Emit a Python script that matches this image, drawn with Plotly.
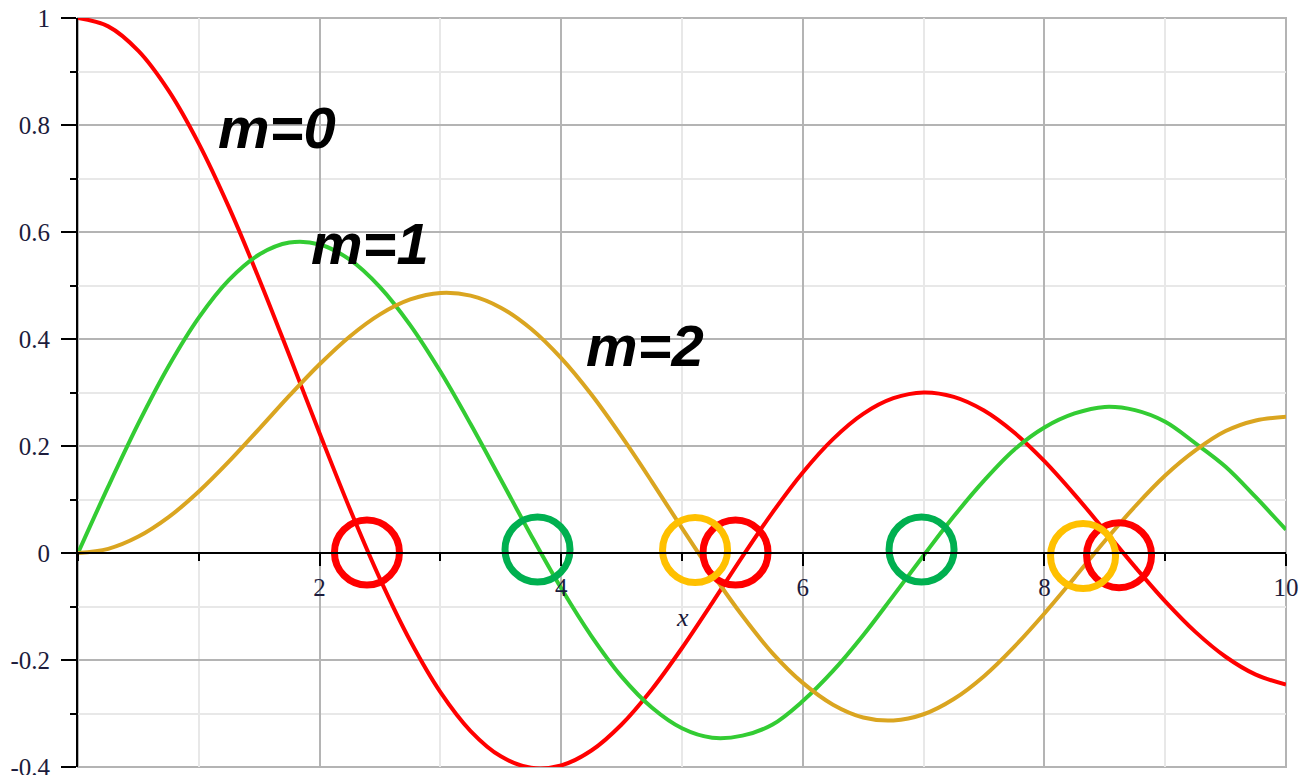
import plotly.graph_objects as go

# Sample points of the three Bessel curves J_m(x), m = 0, 1, 2
x_vals = [0.0, 0.25, 0.5, 0.75, 1.0, 1.25, 1.5, 1.75, 2.0, 2.25, 2.5, 2.75, 3.0, 3.25,
          3.5, 3.75, 4.0, 4.25, 4.5, 4.75, 5.0, 5.25, 5.5, 5.75, 6.0, 6.25, 6.5, 6.75,
          7.0, 7.25, 7.5, 7.75, 8.0, 8.25, 8.5, 8.75, 9.0, 9.25, 9.5, 9.75, 10.0]

j0_vals = [1.0, 0.9844, 0.9385, 0.8642, 0.7652, 0.6459, 0.5118, 0.3690, 0.2239, 0.0827,
           -0.0484, -0.1641, -0.2601, -0.3328, -0.3801, -0.4014, -0.3971, -0.3692, -0.3205,
           -0.2551, -0.1776, -0.0932, -0.0068, 0.0760, 0.1506, 0.2129, 0.2601, 0.2893,
           0.3001, 0.2918, 0.2663, 0.2252, 0.1717, 0.1092, 0.0419, -0.0259, -0.0903,
           -0.1474, -0.1939, -0.2274, -0.2459]

j1_vals = [0.0, 0.1240, 0.2423, 0.3492, 0.4401, 0.5106, 0.5579, 0.5802, 0.5767, 0.5484,
           0.4971, 0.4260, 0.3391, 0.2410, 0.1374, 0.0333, -0.0660, -0.1553, -0.2311,
           -0.2888, -0.3276, -0.3453, -0.3414, -0.3205, -0.2767, -0.2205, -0.1538, -0.0797,
           -0.0047, 0.0685, 0.1352, 0.1930, 0.2346, 0.2608, 0.2731, 0.2670, 0.2453, 0.2051,
           0.1613, 0.1043, 0.0435]

j2_vals = [0.0, 0.0078, 0.0307, 0.0670, 0.1149, 0.1711, 0.2321, 0.2941, 0.3528, 0.4048,
           0.4461, 0.4739, 0.4862, 0.4811, 0.4586, 0.4191, 0.3641, 0.2961, 0.2178, 0.1335,
           0.0466, -0.0383, -0.1173, -0.1875, -0.2428, -0.2835, -0.3074, -0.3129, -0.3014,
           -0.2729, -0.2302, -0.1754, -0.1130, -0.0460, 0.0224, 0.0869, 0.1448, 0.1917,
           0.2279, 0.2478, 0.2546]

# Highlighted zero crossings (circle centres)
zeros_m0_x = [2.392, 5.443, 8.618]
zeros_m0_y = [0.001, 0.001, -0.004]
zeros_m1_x = [3.804, 6.983]
zeros_m1_y = [0.0065, 0.0065]
zeros_m2_x = [5.108, 8.320]
zeros_m2_y = [0.0056, -0.0056]

# Curve labels
label_texts = ["m=0", "m=1", "m=2"]
label_x = [1.65, 2.42, 4.69]
label_y = [0.796, 0.579, 0.387]

y_tickvals = [1, 0.8, 0.6, 0.4, 0.2, 0, -0.2, -0.4]
y_ticktext = ["1", "0.8", "0.6", "0.4", "0.2", "0", "-0.2", "-0.4"]
x_tickvals = [2, 4, 6, 8, 10]
x_ticktext = ["2", "4", "6", "8", "10"]

RED = "#ff0000"
GREEN = "#33cc33"
GOLD = "#daa520"

fig = go.Figure()

for ys, col in [(j0_vals, RED), (j1_vals, GREEN), (j2_vals, GOLD)]:
    fig.add_trace(go.Scatter(
        x=x_vals, y=ys, mode="lines",
        line=dict(color=col, width=4, shape="spline", smoothing=1.0),
        hoverinfo="skip", showlegend=False,
    ))

for zx, zy, col in [(zeros_m0_x, zeros_m0_y, "#ff0000"),
                    (zeros_m1_x, zeros_m1_y, "#00b050"),
                    (zeros_m2_x, zeros_m2_y, "#ffc000")]:
    fig.add_trace(go.Scatter(
        x=zx, y=zy, mode="markers",
        marker=dict(symbol="circle-open", size=65, color=col,
                    line=dict(width=7, color=col)),
        hoverinfo="skip", showlegend=False, cliponaxis=False,
    ))

for t, lx, ly in zip(label_texts, label_x, label_y):
    fig.add_annotation(
        x=lx, y=ly, xref="x", yref="y", text=f"<b><i>{t}</i></b>",
        showarrow=False, font=dict(family="Liberation Sans", size=58, color="black"),
        xanchor="center", yanchor="middle",
    )

fig.add_annotation(
    x=5, y=-0.12, xref="x", yref="y", text="<i>x</i>", showarrow=False,
    font=dict(family="Liberation Serif", size=26, color="#1a1a3a"),
    xanchor="center", yanchor="middle",
)

# plot frame (top and right edges)
fig.add_shape(type="rect", xref="paper", yref="paper", x0=0, y0=0, x1=1, y1=1,
              line=dict(color="#b4b4b4", width=2), layer="below")

tick_font = dict(family="Liberation Serif", size=25, color="#1c1c3c")

fig.update_layout(
    width=1299, height=775,
    margin=dict(l=78, r=13, t=18, b=8),
    paper_bgcolor="white", plot_bgcolor="white",
    xaxis=dict(
        range=[0, 10], anchor="free", position=0.4 / 1.4,
        tickmode="array", tickvals=x_tickvals, ticktext=x_ticktext,
        ticks="outside", ticklen=12, tickwidth=2, tickcolor="black",
        showline=True, linecolor="black", linewidth=2,
        showgrid=True, gridcolor="#b4b4b4", gridwidth=2,
        zeroline=False, tickfont=tick_font, ticklabelstandoff=0,
        ticklabeloverflow="allow", automargin=False,
        minor=dict(tickmode="linear", tick0=0, dtick=1, ticks="outside", ticklen=7,
                   tickwidth=2, tickcolor="black",
                   showgrid=True, gridcolor="#e8e8e8", gridwidth=2),
    ),
    yaxis=dict(
        range=[-0.4, 1],
        tickmode="array", tickvals=y_tickvals, ticktext=y_ticktext,
        ticks="outside", ticklen=15, tickwidth=2, tickcolor="black",
        showline=True, linecolor="black", linewidth=2,
        showgrid=True, gridcolor="#b4b4b4", gridwidth=2,
        zeroline=False, tickfont=tick_font, ticklabelstandoff=6,
        ticklabeloverflow="allow", automargin=False,
        minor=dict(tickmode="linear", tick0=0, dtick=0.1, ticks="outside", ticklen=6,
                   tickwidth=2, tickcolor="black",
                   showgrid=True, gridcolor="#e8e8e8", gridwidth=2),
    ),
)

fig.write_html("out.html")
